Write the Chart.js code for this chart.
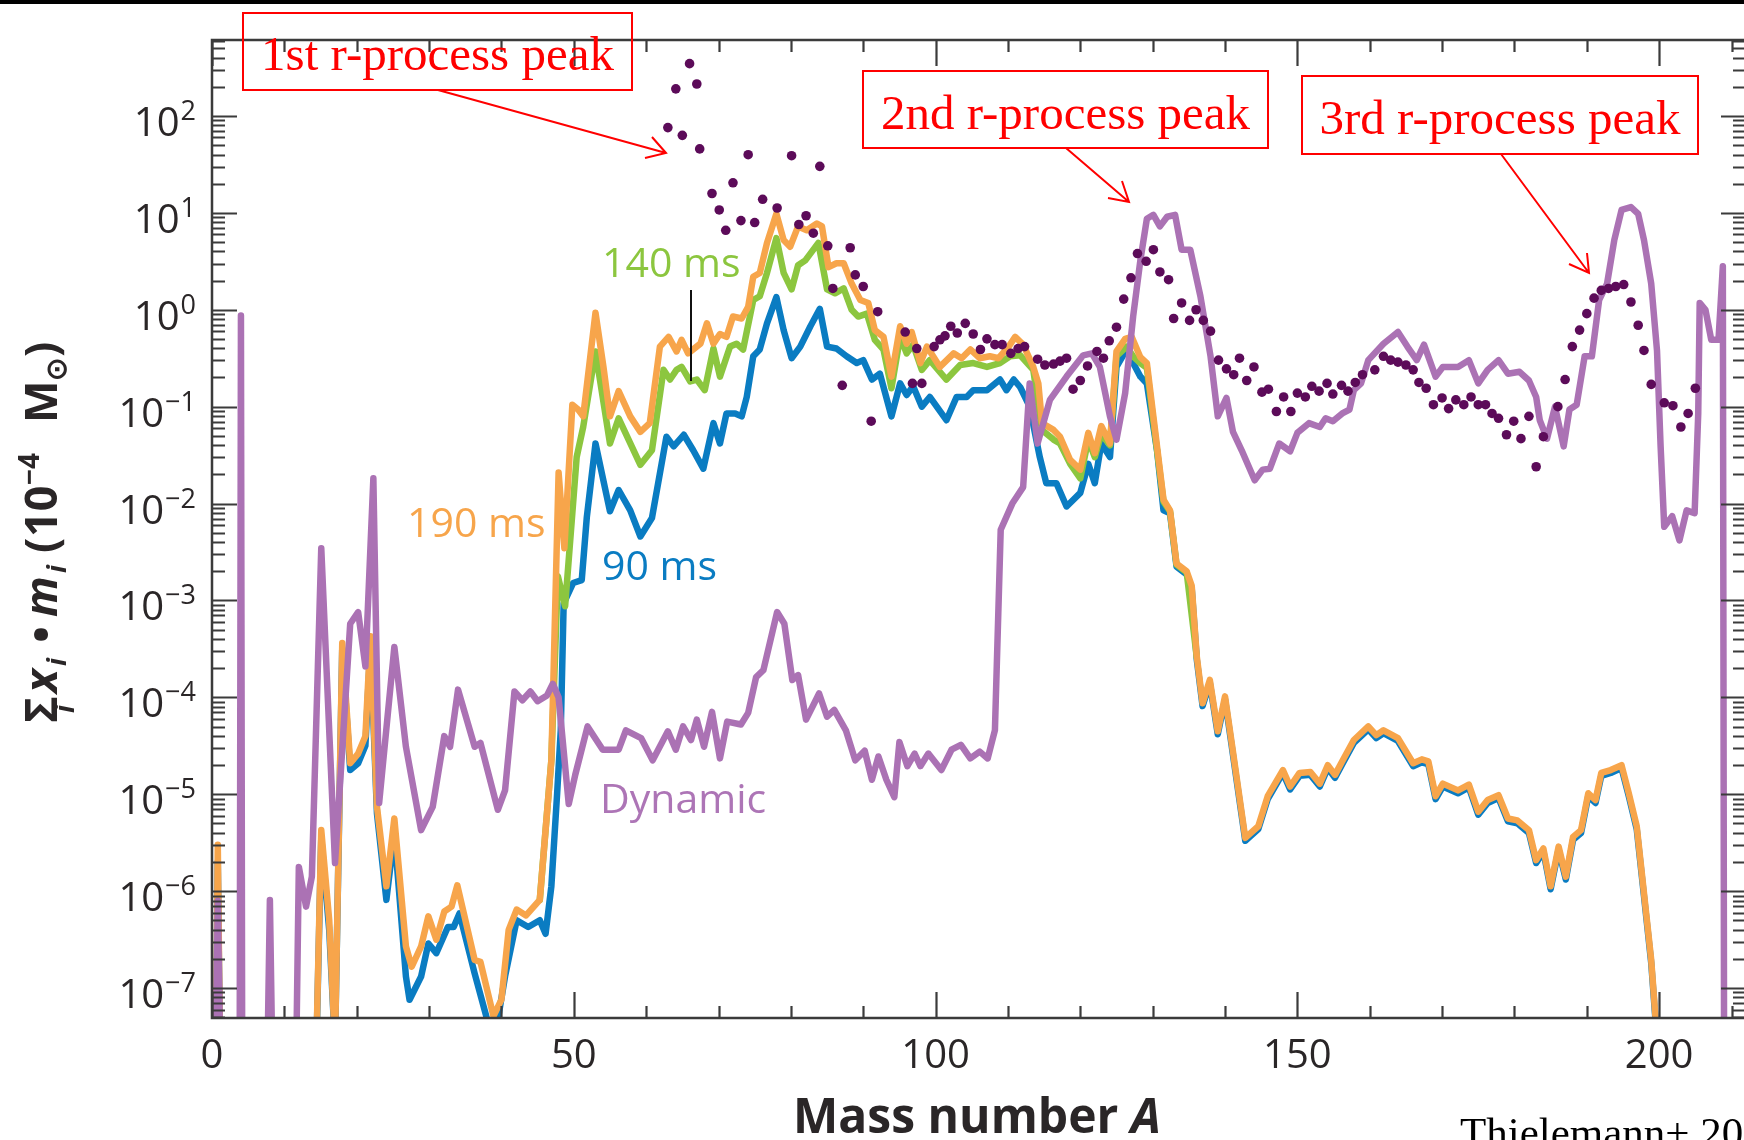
<!DOCTYPE html>
<html>
<head>
<meta charset="utf-8">
<script src="https://cdn.jsdelivr.net/npm/chart.js@4.4.1/dist/chart.umd.min.js"></script>
<style>
  html, body { margin: 0; padding: 0; background: #fff; overflow: hidden; }
  #wrap { width: 1744px; height: 1140px; overflow: hidden; position: relative; }
  canvas { display: block; }
</style>
</head>
<body>
<div id="wrap"><canvas id="abund" width="1760" height="1140"></canvas></div>
<script>
// Values are [mass number A, log10 of sum x_i*m_i (1e-4 Msun)].
// -9 means the curve has dropped below the bottom of the axis.

const xTickLabels = [0, 50, 100, 150, 200];
const yDecades = [-7, -6, -5, -4, -3, -2, -1, 0, 1, 2];

const wind190 = [
  [0.4,-9],[0.8,-5.52],[1.3,-9],[14.0,-9],[15.1,-5.37],[16.2,-6.30],[17.0,-7.6],[18.0,-3.44],[19.1,-4.68],
  [20.2,-4.58],[21.2,-4.40],[21.9,-3.37],[22.8,-5.13],[24.1,-5.95],[25.2,-5.25],[26.8,-6.57],[27.6,-6.78],
  [28.9,-6.57],[29.9,-6.26],[31.0,-6.50],[32.1,-6.21],[33.1,-6.16],[33.9,-5.94],[36.3,-6.71],[37.1,-6.73],
  [38.9,-7.29],[40.0,-7.12],[41.0,-6.40],[42.1,-6.19],[43.4,-6.25],[45.3,-6.09],[46.9,-4.65],[47.9,-1.68],
  [48.7,-2.46],[49.8,-0.98],[50.6,-1.03],[51.3,-1.10],[53.0,-0.03],[54.1,-0.59],[55.0,-1.10],[56.2,-0.84],
  [57.8,-1.10],[59.2,-1.26],[60.5,-1.17],[61.9,-0.38],[63.1,-0.28],[64.2,-0.43],[64.9,-0.31],[65.8,-0.45],
  [67.5,-0.35],[68.4,-0.14],[69.3,-0.35],[70.2,-0.25],[71.1,-0.28],[72.0,-0.07],[73.2,-0.09],[74.1,0.03],
  [74.8,0.34],[75.7,0.38],[76.7,0.69],[78.0,0.99],[79.0,0.72],[79.9,0.65],[81.0,0.86],[82.2,0.82],
  [83.6,0.89],[84.3,0.86],[85.2,0.44],[86.3,0.48],[87.3,0.48],[88.4,0.27],[89.6,0.10],[90.7,0.07],
  [91.6,-0.21],[92.8,-0.28],[93.9,-0.69],[95.1,-0.17],[96.0,-0.35],[96.7,-0.23],[97.9,-0.55],[98.8,-0.38],
  [100.6,-0.59],[102.5,-0.45],[103.6,-0.50],[104.8,-0.41],[106.1,-0.50],[107.5,-0.48],[108.7,-0.50],
  [110.1,-0.38],[111.0,-0.28],[112.1,-0.36],[113.5,-0.59],[114.2,-0.76],[114.7,-1.17],[116.3,-1.24],
  [117.2,-1.31],[118.6,-1.55],[120.0,-1.65],[121.1,-1.27],[122.0,-1.48],[122.9,-1.20],[124.1,-1.38],
  [125.0,-0.43],[126.2,-0.30],[127.1,-0.28],[128.3,-0.49],[129.2,-0.55],[130.1,-1.10],[131.5,-1.96],
  [132.4,-2.07],[133.3,-2.62],[134.7,-2.70],[135.4,-2.85],[136.1,-3.58],[136.9,-4.06],[137.9,-3.82],
  [139.0,-4.35],[140.0,-3.99],[141.0,-4.51],[142.8,-5.45],[144.6,-5.33],[145.9,-5.02],[148.0,-4.75],
  [149.0,-4.92],[150.3,-4.78],[151.8,-4.77],[153.1,-4.89],[154.2,-4.70],[155.2,-4.80],[156.2,-4.66],
  [157.8,-4.44],[159.8,-4.30],[160.9,-4.39],[161.9,-4.34],[163.9,-4.42],[166.0,-4.68],[167.2,-4.64],
  [168.1,-4.66],[169.1,-5.02],[170.1,-4.89],[172.2,-4.96],[173.7,-4.90],[175.0,-5.18],[176.3,-5.06],
  [177.8,-5.01],[179.1,-5.25],[180.4,-5.27],[182.0,-5.37],[183.0,-5.68],[184.0,-5.56],[185.0,-5.95],
  [186.1,-5.54],[187.1,-5.85],[188.1,-5.44],[189.2,-5.37],[190.2,-4.99],[191.2,-5.06],[192.0,-4.78],
  [193.3,-4.75],[194.8,-4.70],[195.8,-4.99],[196.9,-5.33],[197.9,-6.02],[198.9,-6.71],[199.5,-7.31],[200.2,-9]
];

const wind140 = [
  [45.3,-6.09],[46.9,-4.65],[47.8,-2.75],[48.8,-3.06],[50.4,-1.52],[51.3,-1.21],[53.0,-0.43],[55.0,-1.38],
  [56.2,-1.12],[59.2,-1.60],[60.8,-1.45],[62.4,-0.62],[63.3,-0.72],[64.2,-0.62],[64.9,-0.59],[66.1,-0.74],
  [67.0,-0.72],[68.1,-0.83],[69.3,-0.40],[70.2,-0.69],[71.6,-0.38],[72.5,-0.35],[73.4,-0.41],[74.8,0.10],
  [75.7,0.14],[76.7,0.38],[78.0,0.74],[79.0,0.38],[80.1,0.21],[81.0,0.46],[82.0,0.51],[83.8,0.69],
  [85.0,0.21],[86.1,0.17],[87.3,0.22],[88.4,0.0],[89.3,-0.07],[90.5,-0.04],[91.6,-0.31],[92.8,-0.41],
  [93.9,-0.81],[95.1,-0.28],[96.0,-0.45],[96.9,-0.36],[98.1,-0.62],[99.2,-0.52],[101.5,-0.72],[103.4,-0.57],
  [105.2,-0.55],[107.1,-0.59],[108.9,-0.55],[110.3,-0.48],[111.7,-0.47],[113.5,-0.62],[114.7,-1.24],
  [116.3,-1.34],[117.2,-1.38],[118.6,-1.59],[120.0,-1.74],[121.1,-1.34],[122.0,-1.52],[122.9,-1.28],
  [124.1,-1.40],[125.0,-0.48],[126.4,-0.38],[127.3,-0.48],[128.3,-0.55],[129.2,-0.60],[130.1,-1.15],
  [131.5,-1.98],[132.4,-2.08],[133.3,-2.63],[134.7,-2.71],[136.1,-3.59]
];

const wind90 = [
  [0.4,-9],[0.8,-5.70],[1.3,-9],[14.0,-9],[15.1,-5.45],[16.2,-6.40],[17.0,-7.6],[18.0,-3.50],[19.1,-4.75],
  [20.2,-4.68],[21.2,-4.50],[21.9,-3.45],[22.8,-5.20],[24.1,-6.09],[25.2,-5.40],[26.8,-6.88],[27.3,-7.12],
  [28.9,-6.88],[29.9,-6.54],[31.0,-6.64],[32.6,-6.37],[33.4,-6.37],[34.2,-6.23],[36.3,-6.85],[37.9,-7.29],
  [38.9,-7.60],[40.5,-6.88],[42.1,-6.30],[43.7,-6.37],[45.3,-6.30],[46.1,-6.44],[46.9,-5.95],[47.7,-4.99],
  [48.2,-4.34],[48.6,-3.03],[49.9,-2.82],[51.1,-2.79],[51.8,-2.14],[53.0,-1.38],[55.0,-2.08],[56.2,-1.86],
  [57.8,-2.07],[59.2,-2.34],[60.8,-2.15],[62.8,-1.31],[63.8,-1.41],[65.2,-1.29],[66.5,-1.45],[67.9,-1.64],
  [69.3,-1.17],[70.2,-1.38],[71.1,-1.07],[72.3,-1.07],[73.2,-1.10],[73.9,-0.90],[74.8,-0.48],[75.7,-0.41],
  [76.7,-0.14],[78.0,0.13],[79.0,-0.21],[80.1,-0.50],[81.3,-0.38],[82.7,-0.17],[84.0,0.01],[85.0,-0.38],
  [86.3,-0.40],[87.7,-0.48],[89.1,-0.55],[90.0,-0.52],[91.2,-0.72],[92.3,-0.66],[93.9,-1.10],[95.1,-0.76],
  [96.0,-0.88],[96.9,-0.79],[98.1,-1.00],[99.2,-0.90],[101.5,-1.14],[102.9,-0.90],[104.3,-0.90],
  [105.2,-0.83],[107.1,-0.83],[108.9,-0.72],[109.8,-0.83],[110.8,-0.72],[111.7,-0.80],[113.0,-1.00],
  [114.4,-1.52],[115.3,-1.79],[116.7,-1.79],[118.1,-2.03],[120.0,-1.89],[121.1,-1.59],[122.0,-1.79],
  [122.9,-1.38],[124.1,-1.52],[125.0,-0.59],[126.4,-0.41],[127.3,-0.55],[128.3,-0.69],[129.2,-0.76],
  [130.6,-1.45],[131.5,-2.07],[132.4,-2.10],[133.3,-2.65],[134.7,-2.73],[135.4,-2.88],[136.1,-3.61],
  [136.9,-4.09],[137.9,-3.85],[139.0,-4.38],[140.0,-4.02],[141.0,-4.54],[142.8,-5.48],[144.6,-5.36],
  [145.9,-5.05],[148.0,-4.78],[149.0,-4.95],[150.3,-4.81],[151.8,-4.80],[153.1,-4.92],[154.2,-4.73],
  [155.2,-4.83],[156.2,-4.69],[157.8,-4.47],[159.8,-4.33],[160.9,-4.42],[161.9,-4.37],[163.9,-4.45],
  [166.0,-4.71],[167.2,-4.67],[168.1,-4.69],[169.1,-5.05],[170.1,-4.92],[172.2,-4.99],[173.7,-4.93],
  [175.0,-5.21],[176.3,-5.09],[177.8,-5.04],[179.1,-5.28],[180.4,-5.30],[182.0,-5.40],[183.0,-5.71],
  [184.0,-5.59],[185.0,-5.98],[186.1,-5.57],[187.1,-5.88],[188.1,-5.47],[189.2,-5.40],[190.2,-5.02],
  [191.2,-5.09],[192.0,-4.81],[193.3,-4.78],[194.8,-4.73],[195.8,-5.02],[196.9,-5.36],[197.9,-6.05],
  [198.9,-6.74],[199.5,-7.34],[200.2,-9]
];

const dynamicEj = [
  [0.3,-9],[0.8,-6.10],[1.4,-9],[3.8,-9],[4.0,-0.06],[4.2,-9],[7.4,-9],[8.0,-6.09],[8.6,-9],[11.4,-9],
  [12.0,-5.75],[13.0,-6.16],[13.8,-5.85],[15.1,-2.46],[17.0,-5.71],[19.1,-3.24],[20.2,-3.12],[21.2,-3.68],
  [22.3,-1.74],[23.1,-5.09],[25.2,-3.48],[26.8,-4.51],[28.9,-5.37],[30.5,-5.13],[32.1,-4.40],[32.9,-4.51],
  [34.0,-3.92],[36.3,-4.51],[37.1,-4.47],[39.5,-5.16],[40.5,-4.96],[41.8,-3.94],[42.9,-4.03],[44.0,-3.94],
  [45.0,-4.04],[46.3,-3.98],[47.1,-3.86],[47.9,-4.00],[49.3,-5.10],[50.2,-4.80],[51.9,-4.30],[54.0,-4.54],
  [56.2,-4.54],[57.2,-4.34],[59.3,-4.42],[60.9,-4.65],[63.0,-4.35],[64.1,-4.54],[65.1,-4.30],[66.2,-4.44],
  [67.0,-4.23],[68.0,-4.51],[69.1,-4.15],[70.2,-4.63],[71.2,-4.25],[73.1,-4.28],[74.1,-4.16],[75.2,-3.79],
  [76.2,-3.72],[78.1,-3.12],[79.1,-3.24],[80.2,-3.82],[81.0,-3.77],[82.1,-4.23],[83.9,-3.96],[85.0,-4.20],
  [86.0,-4.13],[87.6,-4.34],[88.9,-4.65],[90.2,-4.55],[91.2,-4.85],[92.1,-4.61],[93.2,-4.85],[94.3,-5.03],
  [95.0,-4.46],[96.1,-4.71],[97.1,-4.58],[97.9,-4.71],[99.0,-4.58],[100.8,-4.75],[102.2,-4.54],
  [103.5,-4.49],[104.8,-4.63],[106.1,-4.56],[107.2,-4.63],[108.2,-4.34],[109.0,-2.27],[110.6,-2.00],
  [112.1,-1.83],[113.0,-0.76],[114.1,-1.38],[115.8,-0.93],[118.1,-0.69],[120.4,-0.47],[121.6,-0.45],
  [122.7,-0.59],[124.1,-1.10],[125.0,-1.34],[126.2,-0.86],[127.3,-0.07],[128.3,0.51],[129.2,0.94],
  [130.1,0.98],[131.0,0.86],[132.0,0.96],[133.1,0.98],[134.0,0.62],[135.2,0.62],[136.6,0.14],[138.0,-0.48],
  [139.0,-1.10],[140.2,-0.91],[141.1,-1.26],[142.3,-1.45],[144.1,-1.76],[145.2,-1.65],[146.2,-1.64],
  [147.5,-1.38],[149.0,-1.46],[150.0,-1.27],[151.6,-1.17],[153.1,-1.21],[153.9,-1.12],[154.9,-1.15],
  [156.2,-1.07],[157.2,-1.03],[157.8,-0.83],[158.8,-0.76],[159.8,-0.52],[161.9,-0.35],[163.9,-0.23],
  [165.2,-0.38],[166.5,-0.52],[167.5,-0.36],[169.1,-0.69],[170.1,-0.59],[172.2,-0.59],[173.7,-0.52],
  [175.0,-0.76],[176.3,-0.62],[177.8,-0.52],[179.1,-0.66],[180.7,-0.64],[182.0,-0.73],[183.0,-0.90],
  [183.5,-1.14],[184.5,-1.33],[185.6,-1.00],[186.8,-1.41],[187.6,-1.03],[188.6,-0.98],[189.7,-0.48],
  [190.7,-0.48],[191.7,0.10],[192.8,0.27],[193.8,0.72],[194.8,1.03],[196.1,1.06],[197.1,0.99],[197.9,0.72],
  [198.9,0.27],[199.7,-0.42],[200.2,-1.41],[200.7,-2.24],[201.8,-2.13],[202.8,-2.38],[203.8,-2.07],
  [204.9,-2.10],[205.4,-1.07],[205.6,0.07],[206.4,0.00],[207.2,-0.31],[208.2,-0.31],[208.8,0.45],[209.0,-9]
];

// solar r-process abundances (dots)
const solarR = [
  [63.0,1.88],[64.1,2.28],[65.0,1.80],[66.0,2.54],[67.0,2.33],[67.4,1.66],[69.1,1.20],[70.1,1.03],
  [71.0,0.82],[72.0,1.31],[73.1,0.92],[74.1,1.60],[75.0,0.90],[76.1,1.14],[78.1,1.05],[80.1,1.59],
  [81.1,0.88],[82.1,0.97],[83.1,0.79],[84.0,1.48],[85.1,0.66],[85.8,0.22],[87.1,-0.78],[88.2,0.64],
  [88.9,0.36],[90.0,0.24],[91.1,-1.15],[92.0,-0.02],[95.8,-0.23],[96.8,-0.76],[97.4,-0.40],[98.1,-0.76],
  [99.8,-0.38],[100.6,-0.31],[101.3,-0.27],[102.1,-0.17],[103.0,-0.24],[104.1,-0.14],[105.2,-0.25],
  [106.2,-0.41],[107.1,-0.30],[108.2,-0.36],[109.2,-0.36],[110.4,-0.45],[111.4,-0.40],[112.3,-0.38],
  [114.1,-0.51],[115.1,-0.57],[116.3,-0.56],[117.2,-0.53],[118.1,-0.50],[119.0,-0.82],[120.0,-0.73],
  [121.0,-0.58],[122.3,-0.43],[123.2,-0.50],[124.0,-0.32],[125.0,-0.18],[126.0,0.11],[127.0,0.33],
  [127.9,0.58],[129.1,0.50],[130.1,0.62],[131.0,0.39],[132.2,0.31],[132.9,-0.09],[134.0,0.07],
  [135.1,-0.11],[136.0,0.00],[137.0,-0.11],[138.0,-0.22],[139.1,-0.52],[140.2,-0.61],[141.2,-0.67],
  [142.0,-0.50],[143.0,-0.73],[144.0,-0.59],[145.1,-0.85],[146.0,-0.82],[147.1,-1.05],[148.1,-0.90],
  [149.1,-1.05],[150.0,-0.86],[151.1,-0.90],[152.0,-0.79],[153.0,-0.84],[154.1,-0.76],[154.9,-0.87],
  [156.1,-0.78],[157.0,-0.84],[158.0,-0.75],[159.0,-0.67],[160.7,-0.62],[161.9,-0.48],[162.9,-0.52],
  [163.9,-0.54],[165.0,-0.57],[166.0,-0.62],[166.8,-0.75],[167.8,-0.81],[168.8,-0.98],[170.0,-0.91],
  [170.9,-1.02],[171.9,-0.93],[173.0,-0.98],[174.0,-0.90],[175.0,-0.98],[176.0,-0.98],[176.9,-1.07],
  [177.8,-1.12],[178.9,-1.29],[179.9,-1.15],[180.9,-1.33],[182.0,-1.10],[183.0,-1.62],[184.0,-1.31],
  [186.0,-1.00],[187.0,-0.72],[188.0,-0.38],[189.0,-0.21],[190.0,-0.04],[191.0,0.12],[192.0,0.20],
  [193.0,0.22],[194.0,0.24],[195.1,0.26],[196.1,0.08],[197.1,-0.16],[197.9,-0.42],[198.9,-0.77],
  [200.7,-0.96],[201.9,-0.99],[203.0,-1.21],[204.0,-1.07],[205.0,-0.81]
];

// turn [A, log10] pairs into points for Chart.js
function toPoints(pairs) {
    return pairs.map(function (p) { return { x: p[0], y: Math.pow(10, p[1]) }; });
}

function lineSet(label, pairs, color) {
    return {
        label: label,
        data: toPoints(pairs),
        borderColor: color,
        backgroundColor: color,
        borderWidth: 6.5,
        pointRadius: 0,
        tension: 0,
        borderJoinStyle: 'round',
        borderCapStyle: 'round',
        clip: 0
    };
}

const INK = '#2a2627';
const RED = '#ff0000';

// red boxed notes with arrows
function drawNote(ctx, text, box, baseY, from, tip, wingA, wingB) {
    ctx.save();
    ctx.strokeStyle = RED;
    ctx.lineWidth = 2;
    ctx.strokeRect(box[0], box[1], box[2] - box[0], box[3] - box[1]);
    ctx.fillStyle = RED;
    ctx.font = '49px "Liberation Serif", "Times New Roman", serif';
    ctx.textAlign = 'center';
    ctx.textBaseline = 'alphabetic';
    ctx.fillText(text, (box[0] + box[2]) / 2, baseY);
    ctx.beginPath();
    ctx.moveTo(from[0], from[1]);
    ctx.lineTo(tip[0], tip[1]);
    ctx.moveTo(wingA[0], wingA[1]);
    ctx.lineTo(tip[0], tip[1]);
    ctx.lineTo(wingB[0], wingB[1]);
    ctx.stroke();
    ctx.restore();
}

const framePlugin = {
    id: 'framePlugin',
    beforeDraw: function (chart) {
        const ctx = chart.ctx;
        ctx.save();
        ctx.fillStyle = '#ffffff';
        ctx.fillRect(0, 0, chart.width, chart.height);
        ctx.fillStyle = '#000000';
        ctx.fillRect(0, 0, chart.width, 4);
        ctx.restore();
    },
    afterDatasetsDraw: function (chart) {
        const ctx = chart.ctx;
        const a = chart.chartArea;
        const xs = chart.scales.x;
        const ys = chart.scales.y;

        ctx.save();
        ctx.strokeStyle = '#3b3b3b';
        ctx.lineWidth = 2.5;
        ctx.strokeRect(a.left, a.top, a.right - a.left, a.bottom - a.top);

        // inward ticks on bottom and top
        ctx.lineWidth = 2.2;
        ctx.beginPath();
        for (let v = 0; v <= xs.max; v += 10) {
            const px = Math.round(xs.getPixelForValue(v)) + 0.5;
            const len = (v % 50 === 0) ? 26 : 12;
            ctx.moveTo(px, a.bottom);
            ctx.lineTo(px, a.bottom - len);
            ctx.moveTo(px, a.top);
            ctx.lineTo(px, a.top + len);
        }
        // inward ticks on left and right, log spaced
        for (let n = -8; n <= 2; n++) {
            for (let k = 1; k <= 9; k++) {
                const v = k * Math.pow(10, n);
                if (v < ys.min || v > ys.max) continue;
                const py = Math.round(ys.getPixelForValue(v)) + 0.5;
                const len = (k === 1) ? 25 : 13;
                ctx.moveTo(a.left, py);
                ctx.lineTo(a.left + len, py);
                ctx.moveTo(a.right, py);
                ctx.lineTo(a.right - len, py);
            }
        }
        ctx.stroke();

        // tick labels
        ctx.fillStyle = INK;
        ctx.textBaseline = 'alphabetic';
        ctx.font = '40px "Open Sans"';
        ctx.textAlign = 'center';
        xTickLabels.forEach(function (v) {
            ctx.fillText(String(v), xs.getPixelForValue(v), 1068);
        });
        yDecades.forEach(function (n) {
            const py = ys.getPixelForValue(Math.pow(10, n));
            const exp = n < 0 ? '\u2212' + (-n) : String(n);
            ctx.font = '27px "Open Sans"';
            const we = ctx.measureText(exp).width;
            ctx.textAlign = 'left';
            ctx.fillText(exp, 196 - we, py + 4);
            ctx.font = '40px "Open Sans"';
            ctx.textAlign = 'right';
            ctx.fillText('10', 195 - we, py + 20);
        });

        // x axis title
        ctx.font = 'bold 48px "Open Sans"';
        const w1 = ctx.measureText('Mass number ').width;
        ctx.font = 'italic bold 48px "Open Sans"';
        const w2 = ctx.measureText('A').width;
        let tx = 977 - (w1 + w2) / 2;
        ctx.textAlign = 'left';
        ctx.font = 'bold 48px "Open Sans"';
        ctx.fillText('Mass number ', tx, 1133);
        ctx.font = 'italic bold 48px "Open Sans"';
        ctx.fillText('A', tx + w1, 1133);

        // y axis title, rotated; pieces placed along the text direction
        ctx.save();
        ctx.translate(57, 723);
        ctx.rotate(-Math.PI / 2);
        const big = 'bold 45px "Open Sans"';
        const bigI = 'italic bold 45px "Open Sans"';
        const sm = 'bold 28px "Open Sans"';
        const smI = 'italic bold 27px "Open Sans"';
        const pieces = [
            ['\u03A3', big, 0, 0], ['i', smI, 10, 17], ['x', bigI, 30, 0], ['i', smI, 57, 9],
            ['\u2022', big, 80, 0], ['m', bigI, 106, 0], ['i', smI, 150, 9], ['(', big, 170, 0],
            ['10', big, 186, 0], ['\u22124', sm, 238, -18], ['M', big, 300, 0], ['\u2299', sm, 342, 9],
            [')', big, 366, 0]
        ];
        ctx.textAlign = 'left';
        pieces.forEach(function (p) {
            ctx.font = p[1];
            ctx.fillText(p[0], p[2], p[3]);
        });
        ctx.restore();

        // curve labels
        ctx.font = '41px "Open Sans"';
        ctx.textAlign = 'left';
        ctx.fillStyle = '#8cc63f';
        ctx.fillText('140 ms', 602, 277);
        ctx.fillStyle = '#f7a54b';
        ctx.fillText('190 ms', 407, 537);
        ctx.fillStyle = '#0a7cc2';
        ctx.fillText('90 ms', 602, 580);
        ctx.fillStyle = '#ad75b6';
        ctx.fillText('Dynamic', 600, 813);

        ctx.strokeStyle = '#111';
        ctx.lineWidth = 2;
        ctx.beginPath();
        ctx.moveTo(691, 290);
        ctx.lineTo(691, 381);
        ctx.stroke();

        // notes
        drawNote(ctx, '1st r-process peak', [243, 13, 632, 90], 70,
                 [438, 90], [666, 153], [645, 158], [652, 137]);
        drawNote(ctx, '2nd r-process peak', [863, 71, 1268, 148], 129,
                 [1066, 148], [1129, 202], [1108, 198], [1122, 181]);
        drawNote(ctx, '3rd r-process peak', [1302, 76, 1698, 154], 134,
                 [1501, 154], [1589, 273], [1569, 264], [1587, 253]);

        ctx.fillStyle = '#000';
        ctx.textAlign = 'left';
        ctx.font = '43px "Liberation Serif", "Times New Roman", serif';
        ctx.fillText('Thielemann+ 2017', 1460, 1147);
        ctx.restore();
    }
};

const ctx = document.getElementById('abund');

const chart = new Chart(ctx, {
    type: 'line',
    data: {
        datasets: [
            {
                label: 'solar r-process',
                data: toPoints(solarR),
                showLine: false,
                pointRadius: 4.8,
                pointBorderWidth: 0,
                pointBackgroundColor: '#5c0b59',
                borderColor: '#5c0b59',
                clip: 0
            },
            lineSet('Dynamic', dynamicEj, '#ab72b4'),
            lineSet('190 ms', wind190, '#f7a54b'),
            lineSet('140 ms', wind140, '#8cc63f'),
            lineSet('90 ms', wind90, '#0a7cc2')
        ]
    },
    options: {
        responsive: false,
        animation: false,
        devicePixelRatio: 1,
        layout: { padding: { left: 212, right: 14, top: 40, bottom: 122 } },
        scales: {
            x: { type: 'linear', min: 0, max: 212, display: false },
            y: { type: 'logarithmic', min: 4.91e-8, max: 608, display: false }
        },
        plugins: {
            legend: { display: false },
            tooltip: { enabled: false }
        }
    },
    plugins: [framePlugin]
});
</script>
</body>
</html>
